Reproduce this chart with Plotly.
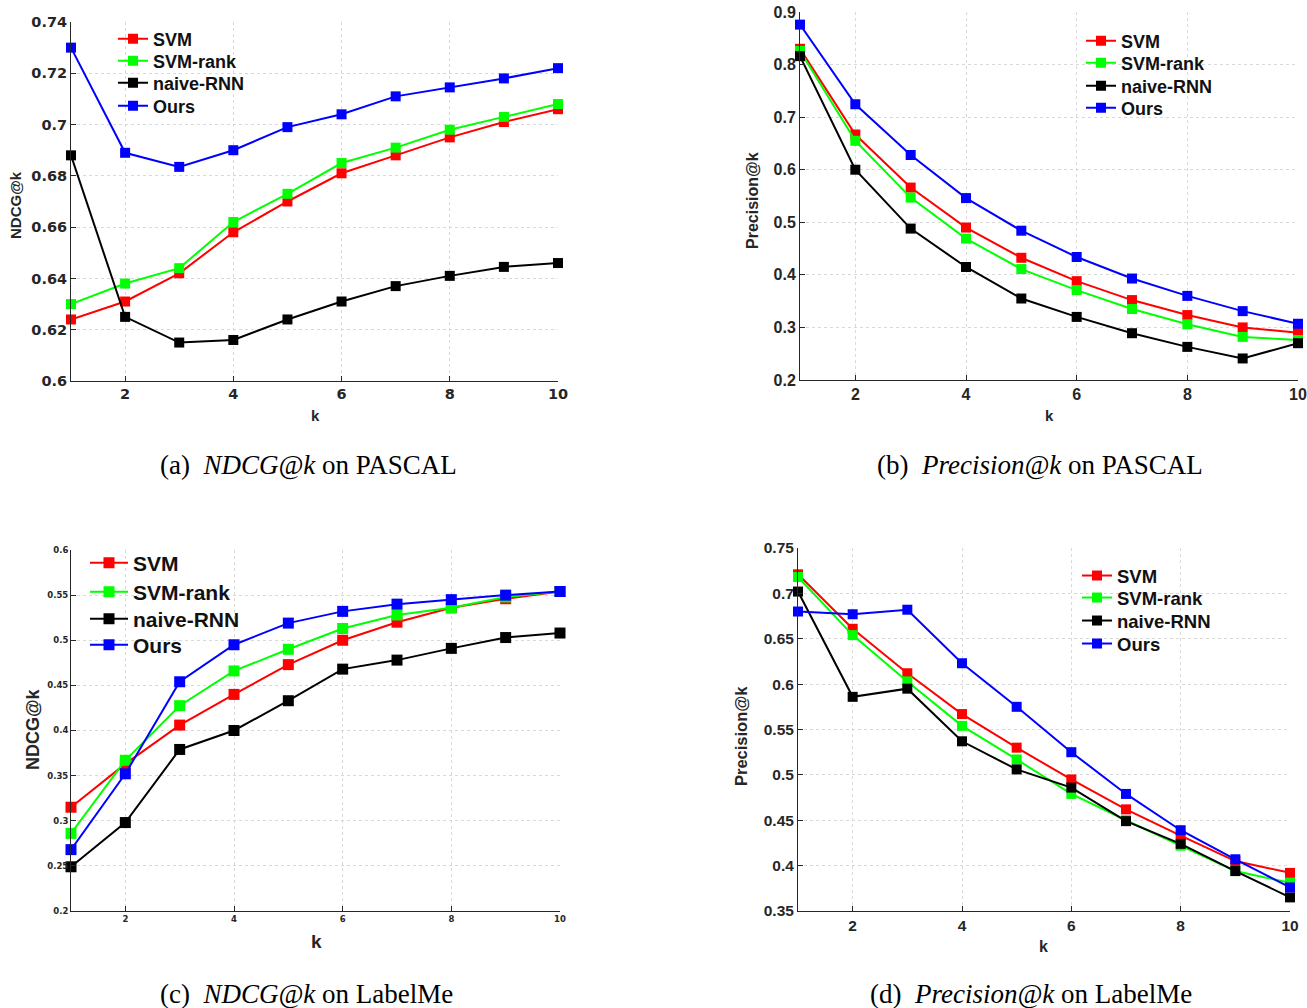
import plotly.graph_objects as go

k = [1, 2, 3, 4, 5, 6, 7, 8, 9, 10]
methods = ["SVM", "SVM-rank", "naive-RNN", "Ours"]
colors = ["#FF0000", "#00FF00", "#000000", "#0000FF"]

# (a) NDCG@k on PASCAL
a_svm = [0.624, 0.631, 0.642, 0.658, 0.670, 0.681, 0.688, 0.695, 0.701, 0.706]
a_svmrank = [0.630, 0.638, 0.644, 0.662, 0.673, 0.685, 0.691, 0.698, 0.703, 0.708]
a_rnn = [0.688, 0.625, 0.615, 0.616, 0.624, 0.631, 0.637, 0.641, 0.6445, 0.646]
a_ours = [0.730, 0.689, 0.6835, 0.690, 0.699, 0.704, 0.711, 0.7145, 0.718, 0.722]

# (b) Precision@k on PASCAL
b_svm = [0.830, 0.667, 0.566, 0.490, 0.4325, 0.388, 0.352, 0.3235, 0.300, 0.290]
b_svmrank = [0.826, 0.655, 0.547, 0.469, 0.411, 0.371, 0.335, 0.306, 0.282, 0.276]
b_rnn = [0.816, 0.600, 0.488, 0.415, 0.355, 0.320, 0.289, 0.263, 0.241, 0.270]
b_ours = [0.876, 0.7245, 0.628, 0.546, 0.484, 0.434, 0.393, 0.360, 0.331, 0.307]

# (c) NDCG@k on LabelMe
c_svm = [0.315, 0.363, 0.406, 0.440, 0.473, 0.500, 0.520, 0.536, 0.546, 0.554]
c_svmrank = [0.286, 0.367, 0.4275, 0.466, 0.490, 0.513, 0.528, 0.536, 0.548, 0.554]
c_rnn = [0.249, 0.298, 0.379, 0.400, 0.433, 0.468, 0.478, 0.491, 0.503, 0.508]
c_ours = [0.268, 0.352, 0.454, 0.495, 0.519, 0.532, 0.540, 0.545, 0.550, 0.554]

# (d) Precision@k on LabelMe
d_svm = [0.721, 0.661, 0.612, 0.567, 0.530, 0.495, 0.462, 0.433, 0.405, 0.392]
d_svmrank = [0.718, 0.654, 0.603, 0.554, 0.517, 0.479, 0.450, 0.422, 0.394, 0.381]
d_rnn = [0.702, 0.586, 0.595, 0.537, 0.506, 0.486, 0.449, 0.424, 0.394, 0.365]
d_ours = [0.680, 0.677, 0.682, 0.623, 0.575, 0.525, 0.479, 0.439, 0.407, 0.376]

x_ticks = [2, 4, 6, 8, 10]
a_yticks = [0.6, 0.62, 0.64, 0.66, 0.68, 0.7, 0.72, 0.74]
b_yticks = [0.2, 0.3, 0.4, 0.5, 0.6, 0.7, 0.8, 0.9]
c_yticks = [0.2, 0.25, 0.3, 0.35, 0.4, 0.45, 0.5, 0.55, 0.6]
d_yticks = [0.35, 0.4, 0.45, 0.5, 0.55, 0.6, 0.65, 0.7, 0.75]

captions = [
    "(a)  <i>NDCG@k</i> on PASCAL",
    "(b)  <i>Precision@k</i> on PASCAL",
    "(c)  <i>NDCG@k</i> on LabelMe",
    "(d)  <i>Precision@k</i> on LabelMe",
]

W, H = 1307, 1008
OFF = 0  # body margin removed by post_script below

def px_x(p):
    return (p - OFF) / W

def px_y(p):
    return 1 - (p - OFF) / H

SANS = "Liberation Sans"
WIDE = "DejaVu Sans"

panels = [
    dict(data=[a_svm, a_svmrank, a_rnn, a_ours], xd=(71, 558), yd=(22, 381), yr=(0.6, 0.74),
         yt=a_yticks, title="NDCG@k", tfam=WIDE, tick=14.5, tsize=15, msize=10, lsize=18,
         lx=113, ly=[39, 61, 83, 106], iw=30, ytp=(16, 205), xtp=(315, 415), xts=15),
    dict(data=[b_svm, b_svmrank, b_rnn, b_ours], xd=(800, 1298), yd=(12, 380), yr=(0.2, 0.9),
         yt=b_yticks, title="Precision@k", tfam=SANS, tick=16, tsize=16, msize=10, lsize=18,
         lx=1081, ly=[41, 63, 86, 108], iw=30, ytp=(753, 201), xtp=(1049, 415), xts=15),
    dict(data=[c_svm, c_svmrank, c_rnn, c_ours], xd=(71, 560), yd=(550, 911), yr=(0.2, 0.6),
         yt=c_yticks, title="NDCG@k", tfam=WIDE, tick=8.5, tsize=18, msize=11, lsize=21,
         lx=85, ly=[563, 592, 619, 645], iw=38, ytp=(33, 729), xtp=(316, 941), xts=19),
    dict(data=[d_svm, d_svmrank, d_rnn, d_ours], xd=(798, 1290), yd=(548, 911), yr=(0.35, 0.75),
         yt=d_yticks, title="Precision@k", tfam=SANS, tick=15.5, tsize=16.5, msize=10, lsize=18.5,
         lx=1077, ly=[576, 598, 621, 644], iw=30, ytp=(741, 736), xtp=(1043, 946), xts=16),
]

fig = go.Figure()
layout = {}
annotations = []
leg_i = 0
for i, p in enumerate(panels):
    n = "" if i == 0 else str(i + 1)
    for j, m in enumerate(methods):
        leg_i += 1
        lg = "legend" if leg_i == 1 else "legend" + str(leg_i)
        fig.add_trace(go.Scatter(
            x=k, y=p["data"][j], name=m, mode="lines+markers",
            line=dict(color=colors[j], width=2),
            marker=dict(symbol="square", size=p["msize"], color=colors[j]),
            xaxis="x" + n, yaxis="y" + n, legend=lg, cliponaxis=False,
        ))
        layout[lg] = dict(
            x=px_x(p["lx"]), y=px_y(p["ly"][j]), xanchor="left", yanchor="middle",
            bgcolor="rgba(0,0,0,0)", borderwidth=0, itemwidth=p["iw"],
            font=dict(family=SANS, size=p["lsize"], color="#111111", weight="bold"),
            tracegroupgap=0,
        )
    tf = dict(family=p["tfam"], size=p["tick"], color="#262626", weight="bold")
    layout["xaxis" + n] = dict(
        domain=[px_x(p["xd"][0]), px_x(p["xd"][1])], range=[1, 10], anchor="y" + n,
        tickvals=x_ticks, ticktext=[str(t) for t in x_ticks], tickfont=tf, automargin=False,
        showline=True, linecolor="#262626", linewidth=1, ticks="inside", ticklen=5,
        tickcolor="#262626", showgrid=True, gridcolor="#d9d9d9", griddash="dot",
        zeroline=False,
    )
    layout["yaxis" + n] = dict(
        domain=[px_y(p["yd"][1]), px_y(p["yd"][0])], range=list(p["yr"]), anchor="x" + n,
        tickvals=p["yt"], ticktext=[f"{t:g}" for t in p["yt"]], tickfont=tf, automargin=False,
        showline=True, linecolor="#262626", linewidth=1, ticks="inside", ticklen=5,
        tickcolor="#262626", showgrid=True, gridcolor="#d9d9d9", griddash="dot",
        zeroline=False,
    )
    annotations.append(dict(
        text=p["title"], x=px_x(p["ytp"][0]), y=px_y(p["ytp"][1]), xref="paper", yref="paper",
        xanchor="center", yanchor="middle", showarrow=False, textangle=-90,
        font=dict(family=SANS, size=p["tsize"], color="#262626", weight="bold"),
    ))
    annotations.append(dict(
        text="k", x=px_x(p["xtp"][0]), y=px_y(p["xtp"][1]), xref="paper", yref="paper",
        xanchor="center", yanchor="middle", showarrow=False,
        font=dict(family=SANS, size=p["xts"], color="#262626", weight="bold"),
    ))

cap_pos = [(308, 465), (1040, 465), (306, 994), (1031, 994)]
for cap, (cx, cy) in zip(captions, cap_pos):
    annotations.append(dict(
        text=cap, x=px_x(cx), y=px_y(cy), xref="paper", yref="paper",
        xanchor="center", yanchor="middle", showarrow=False,
        font=dict(family="Liberation Serif", size=27, color="#000000"),
    ))

fig.update_layout(
    width=W, height=H, margin=dict(l=0, r=0, t=0, b=0, autoexpand=False),
    paper_bgcolor="white", plot_bgcolor="white",
    showlegend=True, annotations=annotations, **layout,
)

fig.write_html("out.html", config={"displayModeBar": False},
               post_script="document.body.style.margin='0';")
